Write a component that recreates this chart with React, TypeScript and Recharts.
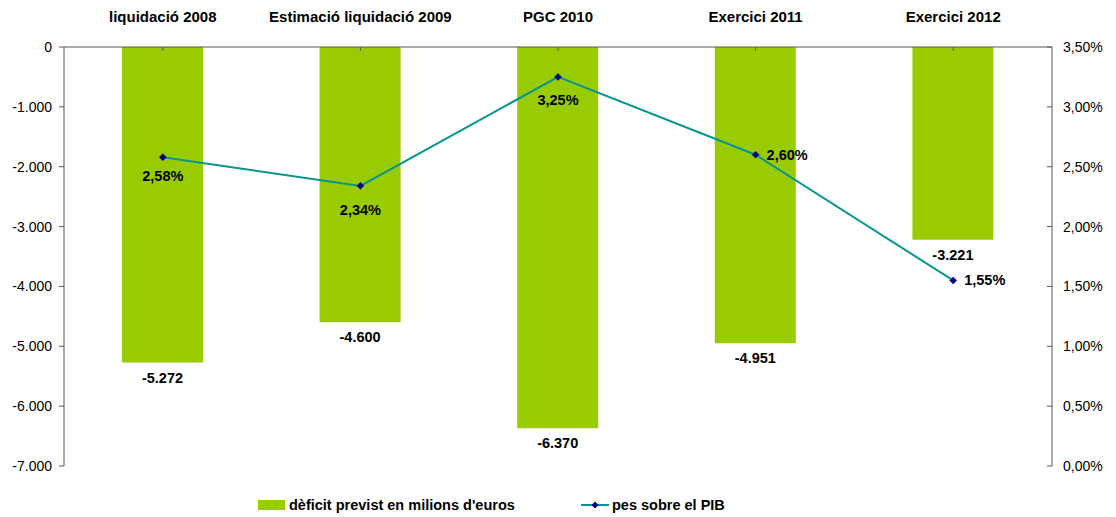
import React from "react";
import {
  ComposedChart,
  Bar,
  Line,
  XAxis,
  YAxis,
  LabelList,
} from "recharts";

const categories = [
  "liquidació 2008",
  "Estimació liquidació 2009",
  "PGC 2010",
  "Exercici 2011",
  "Exercici 2012",
];
const deficitValues = [-5272, -4600, -6370, -4951, -3221];
const pibValues = [2.58, 2.34, 3.25, 2.6, 1.55];
const leftTicks = [-7000, -6000, -5000, -4000, -3000, -2000, -1000, 0];
const rightTicks = [0, 0.5, 1, 1.5, 2, 2.5, 3, 3.5];
const boundaryTicks = [1, 2, 3, 4];
const pibLabelPlacement = ["below", "below", "below", "right", "right"];
const pibLabelOffsets = [24, 29, 28, 5, 5];

const seriesNames = {
  deficit: "dèficit previst en milions d'euros",
  pib: "pes sobre el PIB",
};

const data = categories.map((name, i) => ({
  name,
  deficit: deficitValues[i],
  pib: pibValues[i],
}));

const FONT = "'Liberation Sans', Arial, Helvetica, sans-serif";
const BAR_COLOR = "#99CC00";
const LINE_COLOR = "#089590";
const DOT_COLOR = "#000080";
const AXIS_COLOR = "#595959";

const fmtThousands = (v: number) => {
  const neg = v < 0;
  const s = Math.abs(Math.round(v)).toString().replace(/\B(?=(\d{3})+(?!\d))/g, ".");
  return (neg ? "-" : "") + s;
};
const fmtPct = (v: number) => v.toFixed(2).replace(".", ",") + "%";

const Diamond = (props: any) => {
  const { cx, cy } = props;
  if (cx == null || cy == null) return null;
  const r = 3.5;
  return (
    <path
      d={`M${cx},${cy - r}L${cx + r},${cy}L${cx},${cy + r}L${cx - r},${cy}Z`}
      fill={DOT_COLOR}
      stroke={DOT_COLOR}
      strokeWidth={0.5}
    />
  );
};

const BarValueLabel = (props: any) => {
  const { x, y, width, height, value } = props;
  const bottom = Math.max(y, y + height);
  return (
    <text
      x={x + width / 2}
      y={bottom + 20}
      textAnchor="middle"
      fontFamily={FONT}
      fontSize={14.5}
      fontWeight="bold"
      fill="#000"
    >
      {fmtThousands(value)}
    </text>
  );
};

const PibLabel = (props: any) => {
  const { x, y, value, index } = props;
  const place = pibLabelPlacement[index];
  const off = pibLabelOffsets[index];
  if (place === "right") {
    return (
      <text
        x={x + 11}
        y={y + off}
        textAnchor="start"
        fontFamily={FONT}
        fontSize={14.5}
        fontWeight="bold"
        fill="#000"
      >
        {fmtPct(value)}
      </text>
    );
  }
  return (
    <text
      x={x}
      y={y + off}
      textAnchor="middle"
      fontFamily={FONT}
      fontSize={14.5}
      fontWeight="bold"
      fill="#000"
    >
      {fmtPct(value)}
    </text>
  );
};

export default function App() {
  return (
    <div
      style={{
        position: "absolute",
        left: 0,
        top: 0,
        width: 1116,
        height: 517,
        background: "#fff",
        fontFamily: FONT,
      }}
    >
      <ComposedChart
        width={1116}
        height={517}
        data={data}
        margin={{ top: 17, right: 0, bottom: 51, left: 0 }}
      >
        <XAxis
          xAxisId="bounds"
          type="number"
          domain={[0, categories.length]}
          ticks={boundaryTicks}
          orientation="top"
          height={0}
          tick={false}
          axisLine={false}
          tickSize={-4}
          stroke={AXIS_COLOR}
          allowDataOverflow
        />
        <XAxis
          xAxisId="cat"
          dataKey="name"
          orientation="top"
          height={30}
          interval={0}
          tickSize={-4}
          tickMargin={29}
          stroke={AXIS_COLOR}
          tickLine={{ stroke: AXIS_COLOR }}
          axisLine={{ stroke: AXIS_COLOR }}
          tick={{ fill: "#000", fontSize: 15, fontWeight: "bold", fontFamily: FONT }}
        />
        <YAxis
          yAxisId="left"
          orientation="left"
          width={64}
          domain={[-7000, 0]}
          ticks={leftTicks}
          tickFormatter={fmtThousands}
          tickSize={5}
          tickMargin={7}
          interval={0}
          stroke={AXIS_COLOR}
          tick={{ fill: "#000", fontSize: 14, fontFamily: FONT }}
          allowDataOverflow
        />
        <YAxis
          yAxisId="right"
          orientation="right"
          width={64}
          domain={[0, 3.5]}
          ticks={rightTicks}
          tickFormatter={fmtPct}
          tickSize={-5}
          tickMargin={16}
          interval={0}
          stroke={AXIS_COLOR}
          tick={{ fill: "#000", fontSize: 14, fontFamily: FONT }}
          allowDataOverflow
        />
        <Bar
          xAxisId="cat"
          yAxisId="left"
          dataKey="deficit"
          name={seriesNames.deficit}
          fill={BAR_COLOR}
          barSize={81}
          isAnimationActive={false}
        >
          <LabelList dataKey="deficit" content={BarValueLabel} />
        </Bar>
        <Line
          xAxisId="cat"
          yAxisId="right"
          dataKey="pib"
          name={seriesNames.pib}
          type="linear"
          stroke={LINE_COLOR}
          strokeWidth={2}
          dot={<Diamond />}
          activeDot={false}
          isAnimationActive={false}
        >
          <LabelList dataKey="pib" content={PibLabel} />
        </Line>
      </ComposedChart>

      {/* Legend */}
      <div
        style={{
          position: "absolute",
          left: 258,
          top: 496,
          height: 18,
          display: "flex",
          alignItems: "center",
          fontFamily: FONT,
          fontSize: 14.5,
          fontWeight: "bold",
          color: "#000",
          whiteSpace: "nowrap",
        }}
      >
        <div style={{ width: 27, height: 10, background: BAR_COLOR, marginRight: 4 }} />
        <span>{seriesNames.deficit}</span>
      </div>
      <div
        style={{
          position: "absolute",
          left: 581,
          top: 496,
          height: 18,
          display: "flex",
          alignItems: "center",
          fontFamily: FONT,
          fontSize: 14.5,
          fontWeight: "bold",
          color: "#000",
          whiteSpace: "nowrap",
        }}
      >
        <svg width={28} height={10} style={{ marginRight: 3 }}>
          <line x1={0} y1={5} x2={28} y2={5} stroke={LINE_COLOR} strokeWidth={2} />
          <path d="M14,1.5L17.5,5L14,8.5L10.5,5Z" fill={DOT_COLOR} />
        </svg>
        <span>{seriesNames.pib}</span>
      </div>
    </div>
  );
}
